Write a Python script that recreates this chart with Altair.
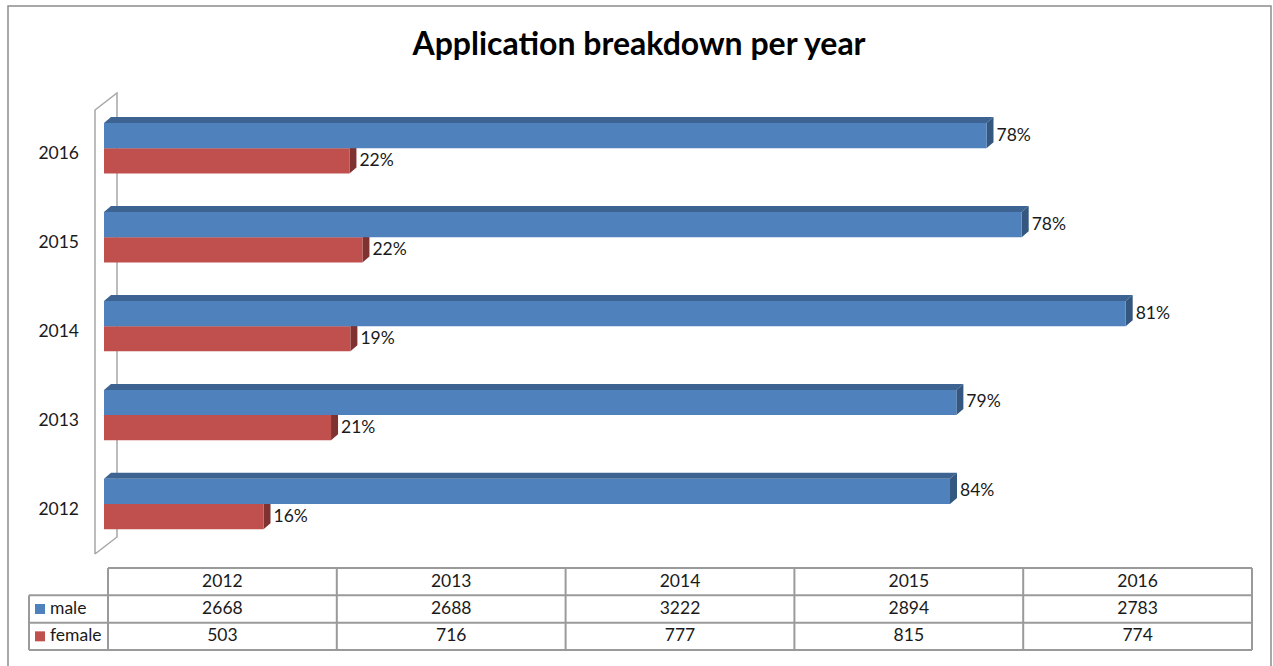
import altair as alt
import pandas as pd

# ---------------- data ----------------
YEARS = ["2012", "2013", "2014", "2015", "2016"]
MALE = [2668, 2688, 3222, 2894, 2783]
FEMALE = [503, 716, 777, 815, 774]
SERIES = ["male", "female"]
TITLE = "Application breakdown per year"

# ---------------- style / layout ----------------
FONT = "Lato"
FS = 17.5
W, H = 1273, 666
FRONT = {"male": "#4f81bd", "female": "#c0504d"}
TOP = {"male": "#3d6392", "female": "#93403d"}
SIDE = {"male": "#34577f", "female": "#7f3230"}
GRID = "#9a9a9a"
TEXT = "#1a1a1a"

X_MAX = 3500
PX_PER_UNIT = 0.3171
xs = alt.Scale(domain=[0, X_MAX], range=[104, 104 + X_MAX * PX_PER_UNIT])
ys = alt.Scale(domain=[0, 4], range=[504, 148.3])
PX_PER_CAT = (504 - 148.3) / 4
BAR_H = 25.2 / PX_PER_CAT
DX = 7 / PX_PER_UNIT
DY = 6 / PX_PER_CAT

cols = alt.Scale(domain=[0, 5], range=[108, 1252])
rows = alt.Scale(domain=[0, 3], range=[568, 650])
LEG_COL = -(108 - 29) / ((1252 - 108) / 5)

# ---------------- tables for marks ----------------
front, topf, side = [], [], []
for i, y in enumerate(YEARS):
    tot = MALE[i] + FEMALE[i]
    for s, v in (("female", FEMALE[i]), ("male", MALE[i])):
        y0, y1 = (i, i + BAR_H) if s == "male" else (i - BAR_H, i)
        key = f"{y}-{s}"
        pct = f"{round(100 * v / tot)}%"
        front.append(dict(key=key, series=s, x0=0, x1=v, y0=y0, y1=y1,
                          ym=(y0 + y1) / 2, pct=pct))
        topf.append(dict(key=key, series=s, y=y1, xa=0, xb=v))
        topf.append(dict(key=key, series=s, y=y1 + DY, xa=DX, xb=v + DX))
        side.append(dict(key=key, series=s, x=v, ya=y0, yb=y1))
        side.append(dict(key=key, series=s, x=v + DX, ya=y0 + DY, yb=y1 + DY))
front_df = pd.DataFrame(front)
top_df = pd.DataFrame(topf)
side_df = pd.DataFrame(side)


def color(pal):
    return alt.Color("series:N", scale=alt.Scale(domain=SERIES, range=[pal[s] for s in SERIES]),
                     legend=None)


def series_layers(s):
    t = alt.Chart(top_df[top_df.series == s]).mark_area(orient="horizontal").encode(
        y=alt.Y("y:Q", scale=ys, axis=None),
        x=alt.X("xa:Q", scale=xs, axis=None, stack=False),
        x2="xb:Q", detail="key:N", color=color(TOP))
    sd = alt.Chart(side_df[side_df.series == s]).mark_area(orient="vertical").encode(
        x=alt.X("x:Q", scale=xs, axis=None),
        y=alt.Y("ya:Q", scale=ys, axis=None, stack=False),
        y2="yb:Q", detail="key:N", color=color(SIDE))
    f = alt.Chart(front_df[front_df.series == s]).mark_rect().encode(
        x=alt.X("x0:Q", scale=xs, axis=None), x2="x1:Q",
        y=alt.Y("y0:Q", scale=ys, axis=None), y2="y1:Q", color=color(FRONT))
    return [t, sd, f]


# 3D side wall (outline)
WALL_X0, WALL_X1 = -9 / PX_PER_UNIT, 13 / PX_PER_UNIT
WALL_YB, WALL_YT = -50 / PX_PER_CAT, 394 / PX_PER_CAT
WALL_RISE = 17 / PX_PER_CAT
wall_df = pd.DataFrame([
    dict(o=0, x=WALL_X0, y=WALL_YB),
    dict(o=1, x=WALL_X0, y=WALL_YT),
    dict(o=2, x=WALL_X1, y=WALL_YT + WALL_RISE),
    dict(o=3, x=WALL_X1, y=WALL_YB + WALL_RISE),
    dict(o=4, x=WALL_X0, y=WALL_YB),
])
wall = alt.Chart(wall_df).mark_line(color="#a6a6a6", strokeWidth=1.5).encode(
    x=alt.X("x:Q", scale=xs, axis=None), y=alt.Y("y:Q", scale=ys, axis=None),
    order="o:Q")

labels = alt.Chart(front_df).mark_text(align="left", baseline="middle", dx=10,
                                       font=FONT, fontSize=FS, color=TEXT).encode(
    x=alt.X("x1:Q", scale=xs, axis=None), y=alt.Y("ym:Q", scale=ys, axis=None),
    text="pct:N")

ylab_df = pd.DataFrame({"year": YEARS, "idx": list(range(len(YEARS)))})
ylabels = alt.Chart(ylab_df).mark_text(align="right", baseline="middle", dy=6,
                                       font=FONT, fontSize=FS, color=TEXT).encode(
    x=alt.value(79), y=alt.Y("idx:Q", scale=ys, axis=None), text="year:N")

# ---------------- data table ----------------
cells = []
for i, y in enumerate(YEARS):
    cells.append(dict(c=i + 0.5, r=0.5, t=y))
    cells.append(dict(c=i + 0.5, r=1.5, t=str(MALE[i])))
    cells.append(dict(c=i + 0.5, r=2.5, t=str(FEMALE[i])))
cells_df = pd.DataFrame(cells)
table_text = alt.Chart(cells_df).mark_text(baseline="middle", font=FONT, fontSize=FS,
                                           color=TEXT).encode(
    x=alt.X("c:Q", scale=cols, axis=None), y=alt.Y("r:Q", scale=rows, axis=None),
    text="t:N")

lines = [dict(a=0, b=5, r1=0, r2=0)]
for r in (1, 2, 3):
    lines.append(dict(a=LEG_COL, b=5, r1=r, r2=r))
lines.append(dict(a=LEG_COL, b=LEG_COL, r1=1, r2=3))
for c in range(6):
    lines.append(dict(a=c, b=c, r1=0, r2=3))
grid = alt.Chart(pd.DataFrame(lines)).mark_rule(color=GRID, strokeWidth=2).encode(
    x=alt.X("a:Q", scale=cols, axis=None), x2="b:Q",
    y=alt.Y("r1:Q", scale=rows, axis=None), y2="r2:Q")

leg_df = pd.DataFrame({"series": SERIES, "r": [1.5, 2.5]})
leg_sq = alt.Chart(leg_df).mark_square(size=100, opacity=1).encode(
    x=alt.value(40), y=alt.Y("r:Q", scale=rows, axis=None), color=color(FRONT))
leg_tx = alt.Chart(leg_df).mark_text(align="left", baseline="middle", font=FONT,
                                     fontSize=FS, color=TEXT).encode(
    x=alt.value(50), y=alt.Y("r:Q", scale=rows, axis=None), text="series:N")

# ---------------- frame and title ----------------
one = pd.DataFrame({"t": [TITLE]})
frame = alt.Chart(one).mark_rect(fillOpacity=0, stroke="#8c8c8c", strokeWidth=1.5).encode(
    x=alt.value(8), x2=alt.value(1271), y=alt.value(6), y2=alt.value(720))
title = alt.Chart(one).mark_text(font=FONT, fontSize=32, fontWeight="bold", color="#000000",
                                 baseline="middle").encode(
    x=alt.value(639), y=alt.value(45), text="t:N")

chart = alt.layer(
    frame, title, wall,
    *series_layers("female"), *series_layers("male"),
    labels, ylabels, grid, table_text, leg_sq, leg_tx,
).resolve_scale(x="independent", y="independent", color="independent").properties(
    width=W, height=H, autosize=alt.AutoSizeParams(type="none"), padding=0,
    background="white",
).configure_view(strokeWidth=0)

chart.save("out.html", embed_options={"renderer": "svg", "actions": False})
